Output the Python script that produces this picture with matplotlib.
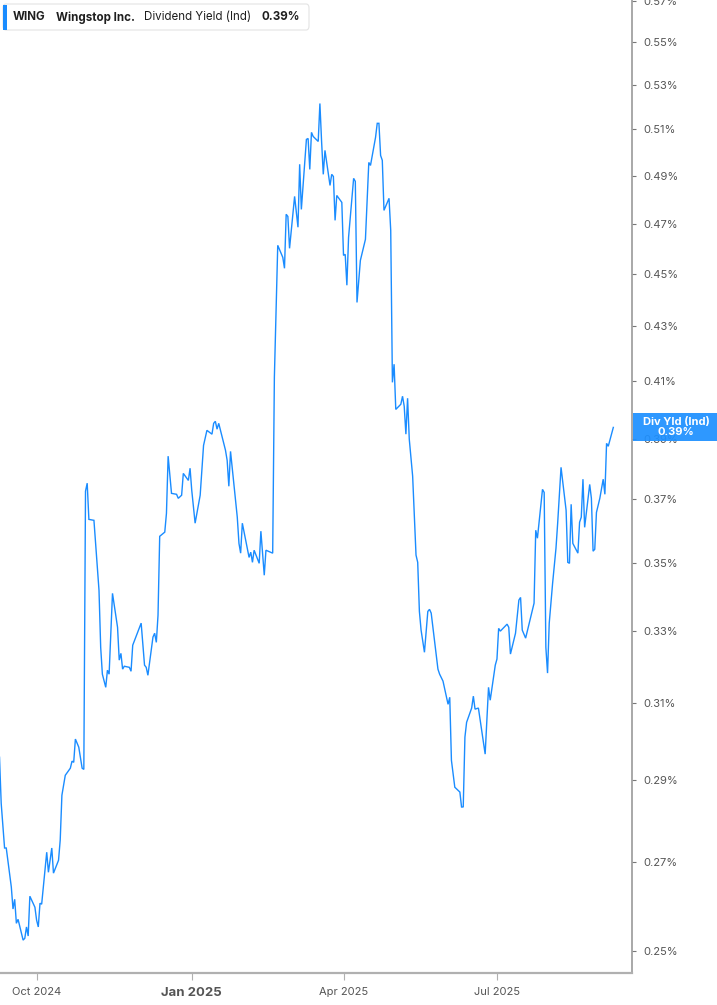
import matplotlib
matplotlib.use('Agg')
import matplotlib.pyplot as plt
from matplotlib.patches import FancyBboxPatch, Rectangle
from matplotlib.ticker import FixedLocator, FixedFormatter, NullLocator
import pandas as pd

plt.rcParams['font.family'] = ['Inter', 'DejaVu Sans']

# ---------------- data ----------------
ticker = 'WING'
company = 'Wingstop Inc.'
metric = 'Dividend Yield (Ind)'
badge_title = 'Div Yld (Ind)'
last_value = 0.39

dates = [
    '2024-09-09','2024-09-10','2024-09-12','2024-09-13','2024-09-16','2024-09-17','2024-09-18','2024-09-19','2024-09-20','2024-09-23',
    '2024-09-24','2024-09-25','2024-09-26','2024-09-27','2024-09-30','2024-10-01','2024-10-02','2024-10-03','2024-10-04','2024-10-07',
    '2024-10-08','2024-10-10','2024-10-11','2024-10-14','2024-10-15','2024-10-16','2024-10-18','2024-10-21','2024-10-22','2024-10-23',
    '2024-10-24','2024-10-26','2024-10-28','2024-10-29','2024-10-30','2024-10-31','2024-11-01','2024-11-04','2024-11-07','2024-11-08',
    '2024-11-09','2024-11-11','2024-11-12','2024-11-13','2024-11-15','2024-11-18','2024-11-19','2024-11-20','2024-11-21','2024-11-22',
    '2024-11-25','2024-11-26','2024-11-27','2024-12-02','2024-12-04','2024-12-05','2024-12-06','2024-12-09','2024-12-10','2024-12-11',
    '2024-12-12','2024-12-13','2024-12-16','2024-12-17','2024-12-18','2024-12-20','2024-12-23','2024-12-24','2024-12-26','2024-12-27',
    '2024-12-30','2024-12-31','2025-01-01','2025-01-03','2025-01-06','2025-01-08','2025-01-10','2025-01-13','2025-01-14','2025-01-15',
    '2025-01-16','2025-01-17','2025-01-21','2025-01-22','2025-01-23','2025-01-24','2025-01-28','2025-01-29','2025-01-30','2025-01-31',
    '2025-02-04','2025-02-05','2025-02-06','2025-02-07','2025-02-10','2025-02-11','2025-02-13','2025-02-14','2025-02-18','2025-02-19',
    '2025-02-21','2025-02-24','2025-02-25','2025-02-26','2025-02-27','2025-02-28','2025-03-03','2025-03-05','2025-03-06','2025-03-07',
    '2025-03-10','2025-03-11','2025-03-12','2025-03-13','2025-03-14','2025-03-17','2025-03-18','2025-03-19','2025-03-20','2025-03-21',
    '2025-03-24','2025-03-25','2025-03-26','2025-03-27','2025-03-28','2025-03-31','2025-04-01','2025-04-02','2025-04-03','2025-04-04',
    '2025-04-07','2025-04-08','2025-04-09','2025-04-11','2025-04-14','2025-04-16','2025-04-17','2025-04-20','2025-04-21','2025-04-22',
    '2025-04-23','2025-04-24','2025-04-25','2025-04-28','2025-04-29','2025-04-30','2025-05-01','2025-05-02','2025-05-05','2025-05-06',
    '2025-05-07','2025-05-08','2025-05-09','2025-05-10','2025-05-12','2025-05-14','2025-05-15','2025-05-16','2025-05-17','2025-05-19',
    '2025-05-21','2025-05-22','2025-05-23','2025-05-27','2025-05-28','2025-05-30','2025-06-02','2025-06-03','2025-06-04','2025-06-06',
    '2025-06-09','2025-06-10','2025-06-11','2025-06-12','2025-06-13','2025-06-16','2025-06-17','2025-06-18','2025-06-20','2025-06-24',
    '2025-06-26','2025-06-27','2025-06-30','2025-07-01','2025-07-02','2025-07-03','2025-07-07','2025-07-08','2025-07-09','2025-07-12',
    '2025-07-14','2025-07-15','2025-07-16','2025-07-18','2025-07-21','2025-07-23','2025-07-24','2025-07-25','2025-07-28','2025-07-29',
    '2025-07-30','2025-07-31','2025-08-01','2025-08-03','2025-08-05','2025-08-06','2025-08-08','2025-08-11','2025-08-12','2025-08-13',
    '2025-08-14','2025-08-15','2025-08-18','2025-08-19','2025-08-20','2025-08-21','2025-08-22','2025-08-25','2025-08-26','2025-08-27',
    '2025-08-28','2025-08-29','2025-08-31','2025-09-02','2025-09-03','2025-09-04','2025-09-05','2025-09-08',
]

div_yield = [
    0.2958, 0.2842, 0.2734, 0.2734, 0.2643, 0.2593, 0.2615, 0.2561, 0.2570, 0.2524,
    0.2528, 0.2553, 0.2533, 0.2622, 0.2597, 0.2568, 0.2553, 0.2606, 0.2604, 0.2724,
    0.2677, 0.2734, 0.2675, 0.2705, 0.2753, 0.2862, 0.2912, 0.2930, 0.2948, 0.2945,
    0.3005, 0.2984, 0.2930, 0.2927, 0.3726, 0.3752, 0.3636, 0.3633, 0.3419, 0.3254,
    0.3179, 0.3143, 0.3190, 0.3179, 0.3410, 0.3311, 0.3218, 0.3237, 0.3193, 0.3201,
    0.3198, 0.3187, 0.3260, 0.3323, 0.3204, 0.3198, 0.3176, 0.3283, 0.3294, 0.3268,
    0.3346, 0.3583, 0.3596, 0.3655, 0.3841, 0.3719, 0.3716, 0.3703, 0.3713, 0.3784,
    0.3761, 0.3801, 0.3729, 0.3624, 0.3713, 0.3877, 0.3928, 0.3915, 0.3952, 0.3959,
    0.3932, 0.3952, 0.3861, 0.3827, 0.3742, 0.3857, 0.3643, 0.3561, 0.3531, 0.3624,
    0.3518, 0.3534, 0.3503, 0.3540, 0.3500, 0.3599, 0.3464, 0.3540, 0.3531, 0.4113,
    0.4612, 0.4564, 0.4521, 0.4738, 0.4729, 0.4600, 0.4812, 0.4685, 0.4948, 0.4758,
    0.5056, 0.5060, 0.4926, 0.5087, 0.5069, 0.5047, 0.5216, 0.5047, 0.4905, 0.5008,
    0.4858, 0.4905, 0.4896, 0.4713, 0.4816, 0.4787, 0.4572, 0.4576, 0.4455, 0.4644,
    0.4888, 0.4875, 0.4389, 0.4552, 0.4636, 0.4956, 0.4943, 0.5065, 0.5127, 0.5127,
    0.4986, 0.4965, 0.4754, 0.4804, 0.4672, 0.4095, 0.4160, 0.4000, 0.4018, 0.4046,
    0.4011, 0.3915, 0.4039, 0.3898, 0.3775, 0.3525, 0.3503, 0.3357, 0.3303, 0.3240,
    0.3357, 0.3363, 0.3352, 0.3193, 0.3179, 0.3160, 0.3097, 0.3116, 0.2950, 0.2882,
    0.2870, 0.2833, 0.2833, 0.3010, 0.3049, 0.3087, 0.3119, 0.3084, 0.3087, 0.2966,
    0.3143, 0.3108, 0.3204, 0.3221, 0.3308, 0.3300, 0.3320, 0.3311, 0.3235, 0.3294,
    0.3390, 0.3398, 0.3303, 0.3280, 0.3340, 0.3381, 0.3602, 0.3577, 0.3732, 0.3722,
    0.3254, 0.3182, 0.3323, 0.3440, 0.3546, 0.3624, 0.3804, 0.3665, 0.3503, 0.3500,
    0.3684, 0.3561, 0.3531, 0.3627, 0.3643, 0.3765, 0.3611, 0.3748, 0.3703, 0.3537,
    0.3543, 0.3658, 0.3703, 0.3765, 0.3716, 0.3884, 0.3874, 0.3938,
]

y_ticks = [0.25, 0.27, 0.29, 0.31, 0.33, 0.35, 0.37, 0.39, 0.41, 0.43,
           0.45, 0.47, 0.49, 0.51, 0.53, 0.55, 0.57]
x_tick_dates = ['2024-10-01', '2025-01-01', '2025-04-01', '2025-07-01']
x_tick_labels = ['Oct 2024', 'Jan 2025', 'Apr 2025', 'Jul 2025']

# ---------------- style ----------------
LINE = '#1a8cff'
BADGE = '#1e90ff'
AXIS = '#9a9a9a'
LABEL = '#555555'
DARK = '#1f1f1f'

W, H = 717, 1005
fig = plt.figure(figsize=(W / 100, H / 100), dpi=100)
fig.patch.set_facecolor('white')

ax = fig.add_axes([0, (H - 973) / H, 632 / W, 973 / H])
x = pd.to_datetime(dates)
ax.plot(x, div_yield, color=LINE, lw=1.0, solid_joinstyle='miter')

ax.set_yscale('log')
ax.set_ylim(0.2453, 0.5706)
ax.set_xlim(pd.Timestamp('2024-09-09 07:00'), pd.Timestamp('2025-09-19 02:00'))

ax.yaxis.tick_right()
ax.yaxis.set_major_locator(FixedLocator(y_ticks))
ax.yaxis.set_major_formatter(FixedFormatter([f'{v:.2f}%' for v in y_ticks]))
ax.yaxis.set_minor_locator(NullLocator())

ax.xaxis.set_major_locator(FixedLocator(
    [matplotlib.dates.date2num(pd.Timestamp(d)) for d in x_tick_dates]))
ax.xaxis.set_major_formatter(FixedFormatter(x_tick_labels))
ax.xaxis.set_minor_locator(NullLocator())

for s in ['left', 'top']:
    ax.spines[s].set_visible(False)
ax.spines['right'].set_color(AXIS)
ax.spines['right'].set_linewidth(1.2)
ax.spines['bottom'].set_color('#b0b0b0')
ax.spines['bottom'].set_linewidth(1.6)

ax.tick_params(axis='y', length=3, width=0.8, color='#777777',
               labelcolor=LABEL, labelsize=8, pad=5)
ax.tick_params(axis='x', length=5, width=0.8, color='#b0b0b0',
               labelcolor=LABEL, labelsize=8, pad=5)
for lbl in ax.get_xticklabels():
    if lbl.get_text().startswith('Jan'):
        lbl.set_fontweight('bold')
        lbl.set_fontsize(9.5)

# ---------------- header legend ----------------
def fx(px):
    return px / W

def fy(py):
    return 1 - py / H

fig.patches.append(FancyBboxPatch((fx(3), fy(30)), fx(306), 26 / H,
                                  boxstyle='round,pad=0,rounding_size=0.004',
                                  transform=fig.transFigure, facecolor='white',
                                  edgecolor='#e3e3e3', lw=0.8, zorder=5))
fig.patches.append(Rectangle((fx(3), fy(30)), fx(3.5), 25 / H,
                             transform=fig.transFigure, facecolor=LINE,
                             edgecolor='none', zorder=6))
yc = fy(17.5)
hdr = 8.3
fig.text(fx(13), yc, ticker, fontsize=hdr, fontweight='bold', color=DARK,
         va='center', ha='left', zorder=7)
fig.text(fx(56), yc, company, fontsize=hdr, fontweight='bold', color=DARK,
         va='center', ha='left', zorder=7)
fig.text(fx(144), yc, metric, fontsize=hdr, color=DARK,
         va='center', ha='left', zorder=7)
fig.text(fx(261), yc, f'{last_value:.2f}%', fontsize=hdr, fontweight='bold',
         color=DARK, va='center', ha='left', zorder=7)

# ---------------- right value badge ----------------
fig.patches.append(Rectangle((fx(632.5), fy(441)), fx(84.5), 27.7 / H,
                             transform=fig.transFigure, facecolor=BADGE,
                             edgecolor='none', alpha=0.93, zorder=8))
fig.text(fx(676), fy(421.7), badge_title, fontsize=8, fontweight='bold',
         color='white', ha='center', va='center', zorder=9)
fig.text(fx(676), fy(432), f'{last_value:.2f}%', fontsize=8,
         fontweight='bold', color='white', ha='center', va='center', zorder=9)

fig.savefig('out.png', dpi=100, facecolor='white')
